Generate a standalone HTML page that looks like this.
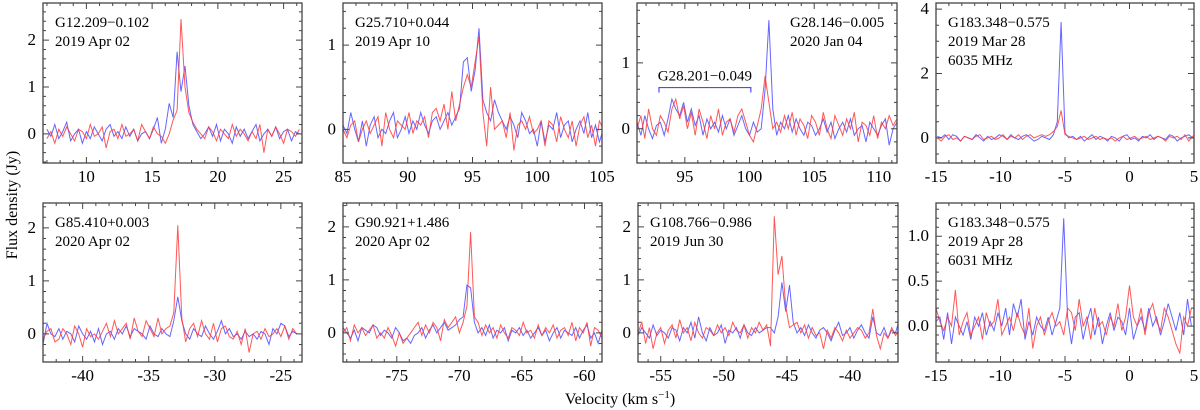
<!DOCTYPE html>
<html><head><meta charset="utf-8">
<style>
html,body{margin:0;padding:0;background:#fff;}
svg{display:block;}
text{font-family:"Liberation Serif","Times New Roman",serif;}
</style></head>
<body>
<svg id="fig" width="1200" height="410" viewBox="0 0 1200 410" xmlns="http://www.w3.org/2000/svg" font-family="Liberation Serif, serif">
<text x="0" y="0" transform="translate(17,205) rotate(-90)" text-anchor="middle" font-size="16" font-family="Liberation Serif, serif">Flux density (Jy)</text>
<text x="620" y="404" text-anchor="middle" font-size="16" font-family="Liberation Serif, serif">Velocity (km s<tspan dy="-6" font-size="11">−1</tspan><tspan dy="6">)</tspan></text>
</svg>
<script>
// Panel 1 G12.209-0.102
const p1Blue=[0.1,-0.05,0.2,-0.1,0.05,0.25,-0.15,0.0,0.1,-0.2,0.05,-0.1,0.15,0.0,-0.15,0.1,0.2,-0.05,0.05,-0.1,0.15,-0.05,0.1,-0.15,0.0,0.05,-0.1,0.1,0.35,-0.2,0.1,0.65,0.35,1.75,0.9,1.45,0.6,0.2,0.05,-0.1,0.0,0.15,-0.05,0.2,-0.15,0.1,0.0,-0.2,0.15,-0.05,0.1,-0.1,0.05,0.2,-0.15,0.0,0.1,-0.05,0.15,-0.1,0.05,0.1,-0.15,0.05,0.0];
const p1Red=[-0.1,0.05,-0.2,0.1,-0.05,0.15,0.0,-0.15,0.1,0.05,-0.1,0.2,-0.05,0.0,0.15,-0.3,0.05,0.1,-0.1,0.2,-0.05,0.0,0.1,-0.15,0.2,0.05,-0.1,0.15,0.0,-0.05,-0.2,0.0,0.3,0.5,2.45,1.0,0.45,0.25,0.1,0.0,-0.1,0.15,0.05,-0.15,0.1,0.0,-0.1,0.2,-0.05,0.1,0.0,-0.15,0.05,-0.1,0.2,-0.4,0.1,-0.05,0.15,0.0,-0.2,0.1,0.05,-0.05,0.1];
// Panel 2 G25.710+0.044
const p2Blue=[0.05,-0.05,0.2,0.0,-0.15,0.1,-0.2,0.05,0.15,-0.1,0.0,-0.05,0.1,0.2,-0.1,0.0,0.15,-0.05,0.1,0.0,0.2,0.05,-0.05,0.1,0.15,0.0,0.1,0.2,0.05,0.15,0.25,0.8,0.85,0.45,0.7,1.2,0.35,0.2,0.1,0.35,0.2,0.1,0.0,0.15,0.05,-0.1,0.2,0.1,-0.05,0.0,-0.2,0.1,-0.15,0.05,0.0,0.2,-0.1,0.05,0.1,-0.15,0.0,0.1,-0.05,0.2,-0.1,0.05,-0.15,0.0];
const p2Red=[0.0,-0.1,0.05,0.1,-0.15,0.0,0.1,-0.05,0.05,0.15,-0.2,0.2,0.0,-0.1,0.1,0.05,0.0,0.2,-0.05,0.1,0.05,0.15,-0.1,0.2,0.25,0.1,0.3,0.0,0.45,0.1,0.3,0.5,0.65,0.5,0.8,1.1,0.2,-0.2,0.5,0.0,0.05,0.1,-0.1,0.2,-0.25,0.05,0.1,0.0,0.15,-0.05,0.0,0.1,-0.2,0.1,0.05,-0.15,0.15,0.0,-0.1,0.1,-0.2,0.05,0.15,-0.1,0.05,-0.2,0.1,0.0];
// Panel 3 G28.146-0.005
const p3Blue=[0.1,-0.1,0.2,0.0,-0.15,0.05,0.1,-0.1,0.15,0.45,0.3,0.2,0.4,0.1,0.3,0.05,0.2,-0.1,0.15,0.0,0.1,-0.05,0.2,0.0,0.15,-0.1,0.05,0.2,0.0,-0.1,0.1,-0.05,0.0,0.6,1.65,0.3,-0.1,0.1,0.0,0.2,-0.05,0.15,0.0,-0.1,0.1,0.05,-0.1,0.0,0.15,-0.05,0.1,-0.15,0.0,0.1,-0.05,0.15,-0.1,0.0,0.05,-0.2,0.1,0.0,-0.1,0.05,0.15,-0.25,0.0,0.1];
const p3Red=[0.0,0.2,-0.15,0.3,0.0,-0.1,0.2,0.1,-0.05,0.3,0.45,0.15,0.35,0.0,0.25,-0.1,0.3,0.1,-0.15,0.2,0.0,0.3,-0.1,0.1,0.15,-0.05,0.2,0.3,0.1,-0.1,-0.2,0.05,0.3,0.8,0.4,0.0,0.1,-0.05,0.2,0.0,0.25,-0.1,0.15,0.05,-0.15,0.2,0.1,-0.1,0.25,0.0,-0.15,0.2,0.05,-0.1,0.15,0.0,0.25,-0.2,0.1,0.05,-0.1,0.2,-0.15,0.1,0.0,0.2,0.05,0.15];
// Panel 4 G183.348-0.575 6035 MHz
const p4Blue=[0.05,0.0,0.1,-0.05,0.1,0.05,-0.1,0.05,0.0,-0.05,0.1,0.0,-0.1,0.05,-0.05,0.0,0.1,0.05,-0.05,0.1,0.0,-0.05,0.05,0.1,0.0,-0.1,-0.05,0.05,0.0,-0.05,0.1,0.5,3.6,0.15,0.0,0.05,-0.05,0.05,-0.1,0.0,0.1,-0.05,0.05,0.0,-0.1,0.05,0.0,-0.1,0.05,0.1,-0.05,0.0,-0.1,0.05,0.0,0.1,-0.05,0.05,0.0,-0.05,0.1,0.05,-0.1,0.0,0.05,0.1,0.0,0.05];
const p4Red=[0.0,-0.1,0.05,0.1,-0.05,0.0,-0.1,0.05,0.0,-0.05,0.05,0.1,-0.05,0.0,0.05,-0.05,0.0,0.1,-0.05,0.05,0.0,0.1,-0.05,0.05,0.1,0.0,0.05,0.1,0.05,0.1,0.2,0.35,0.85,0.1,0.05,0.0,-0.05,0.0,0.05,-0.05,0.0,0.05,-0.05,0.0,-0.05,0.0,-0.1,0.0,0.05,-0.05,0.0,0.05,-0.05,0.0,0.05,-0.05,0.0,0.05,0.0,-0.1,0.05,0.0,0.05,-0.05,0.1,-0.1,0.05,0.15];
// Panel 5 G85.410+0.003
const p5Blue=[-0.2,0.2,0.0,-0.05,0.1,-0.1,0.05,0.0,-0.15,0.15,0.0,-0.1,0.05,-0.15,0.1,-0.2,0.0,0.05,-0.1,0.1,0.0,0.15,-0.05,0.1,0.05,0.0,-0.1,0.15,0.0,-0.05,0.1,0.0,-0.05,0.25,0.7,0.25,0.0,-0.1,0.1,0.0,-0.05,0.15,0.0,-0.1,0.05,0.25,0.0,0.1,-0.05,0.0,-0.1,0.05,-0.05,0.0,-0.1,0.05,0.0,-0.2,0.1,0.0,0.2,0.15,-0.05,0.05,0.0];
const p5Red=[-0.1,0.05,0.1,-0.15,-0.1,0.1,0.0,-0.2,0.15,0.0,-0.25,0.1,-0.05,0.0,-0.1,0.05,0.2,-0.05,0.25,0.0,0.1,0.2,-0.1,0.3,0.05,-0.05,0.25,0.1,-0.05,0.3,0.0,0.1,0.15,0.4,2.05,0.3,-0.15,0.1,0.2,-0.05,0.25,0.0,-0.1,0.2,-0.15,0.1,0.15,-0.05,-0.1,0.05,-0.2,0.1,-0.35,0.0,0.05,-0.1,0.1,-0.05,0.0,0.1,-0.05,0.15,-0.1,0.1,0.0];
// Panel 6 G90.921+1.486
const p6Blue=[0.1,0.0,-0.1,0.05,-0.15,0.1,0.05,0.0,0.15,0.1,-0.05,0.05,0.0,-0.1,0.1,0.0,-0.15,-0.1,-0.2,-0.05,0.0,0.1,-0.1,0.05,0.15,0.0,0.1,0.2,0.05,0.1,0.15,0.25,0.3,0.9,0.85,0.2,0.0,0.1,-0.05,0.15,-0.1,0.05,0.0,0.1,-0.15,0.05,0.0,0.1,-0.05,0.05,-0.1,0.0,0.1,-0.05,0.05,-0.15,0.0,0.1,-0.1,0.05,0.0,-0.05,0.1,-0.1,0.05,0.15,-0.1,0.0,-0.2,0.05];
const p6Red=[0.0,0.1,-0.15,0.15,0.0,0.1,-0.05,0.05,0.15,-0.1,0.0,-0.1,0.1,-0.05,-0.25,0.0,-0.2,-0.1,0.0,0.1,0.2,-0.05,0.15,0.0,0.2,0.1,-0.15,0.25,0.1,0.2,0.3,0.0,0.2,0.5,1.9,0.3,0.2,-0.05,0.15,0.0,0.1,-0.1,0.15,0.0,-0.1,0.1,0.05,-0.05,0.2,0.0,0.05,-0.1,0.15,-0.05,0.1,0.0,0.15,-0.1,0.05,0.1,-0.05,0.2,-0.15,0.1,0.0,0.2,-0.25,0.1,0.05,-0.1];
// Panel 7 G108.766-0.986
const p7Blue=[-0.05,0.1,0.0,-0.1,0.15,-0.05,0.05,0.0,-0.1,0.1,0.05,-0.15,0.1,0.0,0.2,-0.1,0.3,0.0,-0.15,0.1,-0.05,0.0,0.15,-0.2,0.05,0.0,0.1,-0.1,0.15,0.0,-0.05,0.1,0.0,0.05,0.1,0.1,0.0,0.3,0.95,0.4,0.9,0.2,0.0,0.1,-0.05,0.15,0.0,-0.1,0.05,0.1,0.0,-0.15,0.05,0.2,-0.05,0.0,0.1,-0.1,0.05,0.15,0.0,-0.1,0.3,0.0,-0.05,0.1,-0.1,0.05,0.0,0.25];
const p7Red=[0.0,0.2,-0.2,0.1,-0.3,0.0,0.1,-0.2,0.05,0.15,-0.1,0.25,0.0,0.1,-0.15,0.2,0.0,-0.1,0.1,0.05,-0.05,0.15,0.0,0.1,-0.05,0.2,0.05,0.0,0.15,-0.1,0.1,0.0,0.2,0.05,0.15,-0.25,2.2,1.1,1.45,0.5,0.1,0.15,0.2,0.0,0.15,-0.1,0.1,-0.05,0.0,-0.3,0.05,-0.1,0.1,0.0,-0.15,0.05,-0.1,0.0,0.1,0.05,-0.1,0.0,0.45,-0.05,-0.3,0.0,-0.1,0.1,-0.05,0.05];
// Panel 8 G183.348-0.575 6031 MHz
const p8Blue=[0.05,0.1,-0.15,0.15,-0.2,0.1,0.0,-0.1,0.05,-0.15,0.1,0.0,0.15,-0.1,0.05,-0.05,0.15,0.0,0.2,-0.1,0.25,0.1,0.3,-0.15,0.05,-0.1,0.1,0.0,-0.05,0.1,-0.1,0.05,0.2,1.2,0.1,-0.2,0.1,0.15,-0.15,0.05,0.2,-0.1,0.1,-0.2,0.0,0.15,-0.05,0.1,0.05,-0.1,0.2,-0.15,0.0,0.1,-0.05,0.2,0.0,0.1,-0.1,0.05,0.25,0.1,-0.05,0.15,-0.1,0.3,0.0];
const p8Red=[0.2,0.05,-0.05,0.1,0.0,0.4,-0.1,0.05,0.15,-0.1,0.0,0.1,-0.15,0.15,0.0,0.05,0.3,-0.1,0.0,0.1,-0.05,0.15,0.0,-0.1,0.2,-0.25,0.0,0.1,-0.1,0.05,0.15,0.0,0.05,-0.1,0.2,0.15,-0.05,0.3,0.0,0.1,-0.15,0.2,0.0,0.05,-0.1,0.1,0.0,0.25,-0.05,0.1,0.45,0.1,0.0,0.2,-0.1,0.15,0.25,0.05,-0.05,0.2,0.1,-0.05,-0.2,-0.3,0.1,0.0,0.2];

const xTicks1=[10,15,20,25], xTicks2=[85,90,95,100,105], xTicks3=[95,100,105,110], xTicks4=[-15,-10,-5,0,5];
const xTicks5=[-40,-35,-30,-25], xTicks6=[-75,-70,-65,-60], xTicks7=[-55,-50,-45,-40], xTicks8=[-15,-10,-5,0,5];

const panels=[
 {name:'g12',x0:43,x1:302,y0:3,y1:163,vmin:6.7,vmax:26.4,fmin:-0.62,fmax:2.79,v0:7,step:0.3,blue:p1Blue,red:p1Red,xt:xTicks1,yt:[0,1,2],yl:['0','1','2'],ym:0.2,lines:['G12.209−0.102','2019 Apr 02']},
 {name:'g25',x0:343,x1:602,y0:3,y1:163,vmin:85,vmax:105,fmin:-0.4,fmax:1.5,v0:85,step:0.3,blue:p2Blue,red:p2Red,xt:xTicks2,yt:[0,1],yl:['0','1'],ym:0.2,lines:['G25.710+0.044','2019 Apr 10']},
 {name:'g28',x0:637,x1:897,y0:3,y1:163,vmin:91.3,vmax:111.4,fmin:-0.52,fmax:1.91,v0:91.3,step:0.3,blue:p3Blue,red:p3Red,xt:xTicks3,yt:[0,1],yl:['0','1'],ym:0.2,lines:['G28.146−0.005','2020 Jan 04'],tx:790},
 {name:'g183a',x0:936,x1:1194,y0:3,y1:163,vmin:-15,vmax:5,fmin:-0.78,fmax:4.19,v0:-14.9,step:0.3,blue:p4Blue,red:p4Red,xt:xTicks4,yt:[0,2,4],yl:['0','2','4'],ym:0.5,lines:['G183.348−0.575','2019 Mar 28','6035 MHz']},
 {name:'g85',x0:43,x1:302,y0:203,y1:362,vmin:-43,vmax:-23.4,fmin:-0.53,fmax:2.47,v0:-43,step:0.3,blue:p5Blue,red:p5Red,xt:xTicks5,yt:[0,1,2],yl:['0','1','2'],ym:0.2,lines:['G85.410+0.003','2020 Apr 02']},
 {name:'g90',x0:343,x1:602,y0:203,y1:362,vmin:-79.3,vmax:-58.6,fmin:-0.55,fmax:2.45,v0:-79.3,step:0.3,blue:p6Blue,red:p6Red,xt:xTicks6,yt:[0,1,2],yl:['0','1','2'],ym:0.2,lines:['G90.921+1.486','2020 Apr 02']},
 {name:'g108',x0:638,x1:898,y0:203,y1:362,vmin:-56.8,vmax:-36.2,fmin:-0.55,fmax:2.45,v0:-56.8,step:0.3,blue:p7Blue,red:p7Red,xt:xTicks7,yt:[0,1,2],yl:['0','1','2'],ym:0.2,lines:['G108.766−0.986','2019 Jun 30']},
 {name:'g183b',x0:936,x1:1194,y0:203,y1:362,vmin:-15,vmax:5,fmin:-0.4,fmax:1.37,v0:-15,step:0.3,blue:p8Blue,red:p8Red,xt:xTicks8,yt:[0,0.5,1],yl:['0.0','0.5','1.0'],ym:0.1,lines:['G183.348−0.575','2019 Apr 28','6031 MHz']}
];
const NS='http://www.w3.org/2000/svg';
const FONT='"Liberation Serif", serif';
const svg=document.getElementById('fig');
function mk(tag,attrs,parent){const e=document.createElementNS(NS,tag);for(const k in attrs)e.setAttribute(k,attrs[k]);if(tag==='text')e.setAttribute('font-family',FONT);(parent||svg).appendChild(e);return e;}
panels.forEach((p,pi)=>{
 const g=mk('g',{});
 
 
 const sx=v=>p.x0+(v-p.vmin)/(p.vmax-p.vmin)*(p.x1-p.x0);
 const sy=f=>p.y1-(f-p.fmin)/(p.fmax-p.fmin)*(p.y1-p.y0);
 const cid='clip'+pi;
 const cp=mk('clipPath',{id:cid},g);mk('rect',{x:p.x0,y:p.y0,width:p.x1-p.x0,height:p.y1-p.y0},cp);
 [['blue',p.blue,'#4a4aff'],['red',p.red,'#ff3a3a']].forEach(([nm,arr,col])=>{
  const pts=arr.map((f,i)=>sx(p.v0+i*p.step).toFixed(1)+','+sy(f).toFixed(1)).join(' ');
  const l=mk('polyline',{points:pts,fill:'none',stroke:col,'stroke-width':1,'stroke-opacity':0.85,'clip-path':'url(#'+cid+')'},g);
  
  
 });
 const fr=mk('rect',{x:p.x0,y:p.y0,width:p.x1-p.x0,height:p.y1-p.y0,fill:'none',stroke:'#444','stroke-width':1.3},g);
 
 
 let d='';
 for(let v=Math.ceil(p.vmin);v<=p.vmax;v++){const x=sx(v);const L=(v%5===0)?6:3;d+=`M${x},${p.y1}v${-L}M${x},${p.y0}v${L}`;}
 for(let k=Math.ceil(p.fmin/p.ym-1e-6);k*p.ym<=p.fmax;k++){const f=k*p.ym;const y=sy(f);const maj=p.yt.some(t=>Math.abs(t-f)<1e-6);const L=maj?6:3;d+=`M${p.x0},${y}h${L}M${p.x1},${y}h${-L}`;}
 const tk=mk('path',{d:d,stroke:'#444','stroke-width':1,fill:'none'},g);
 
 
 p.xt.forEach(v=>{const t=mk('text',{x:sx(v),y:p.y1+19,'text-anchor':'middle','font-size':17},g);t.textContent=String(v);
  
  });
 p.yt.forEach((v,i)=>{const t=mk('text',{x:p.x0-7,y:sy(v)+5,'text-anchor':'end','font-size':17},g);t.textContent=p.yl[i];
  
  });
 p.lines.forEach((s,i)=>{const t=mk('text',{x:p.tx||p.x0+12,y:p.y0+24+i*19,'font-size':15},g);t.textContent=s;
  
  });
 if(p.name==='g28'){
  const b=mk('path',{d:`M${sx(93)},${sy(0.55)}v${-5}H${sx(100.1)}v5`,stroke:'#4a4aff','stroke-width':1.2,fill:'none'},g);
  
  
  const t=mk('text',{x:sx(96.55),y:sy(0.55)-12,'text-anchor':'middle','font-size':15},g);t.textContent='G28.201−0.049';
  
  
 }
});
</script>
</body></html>
